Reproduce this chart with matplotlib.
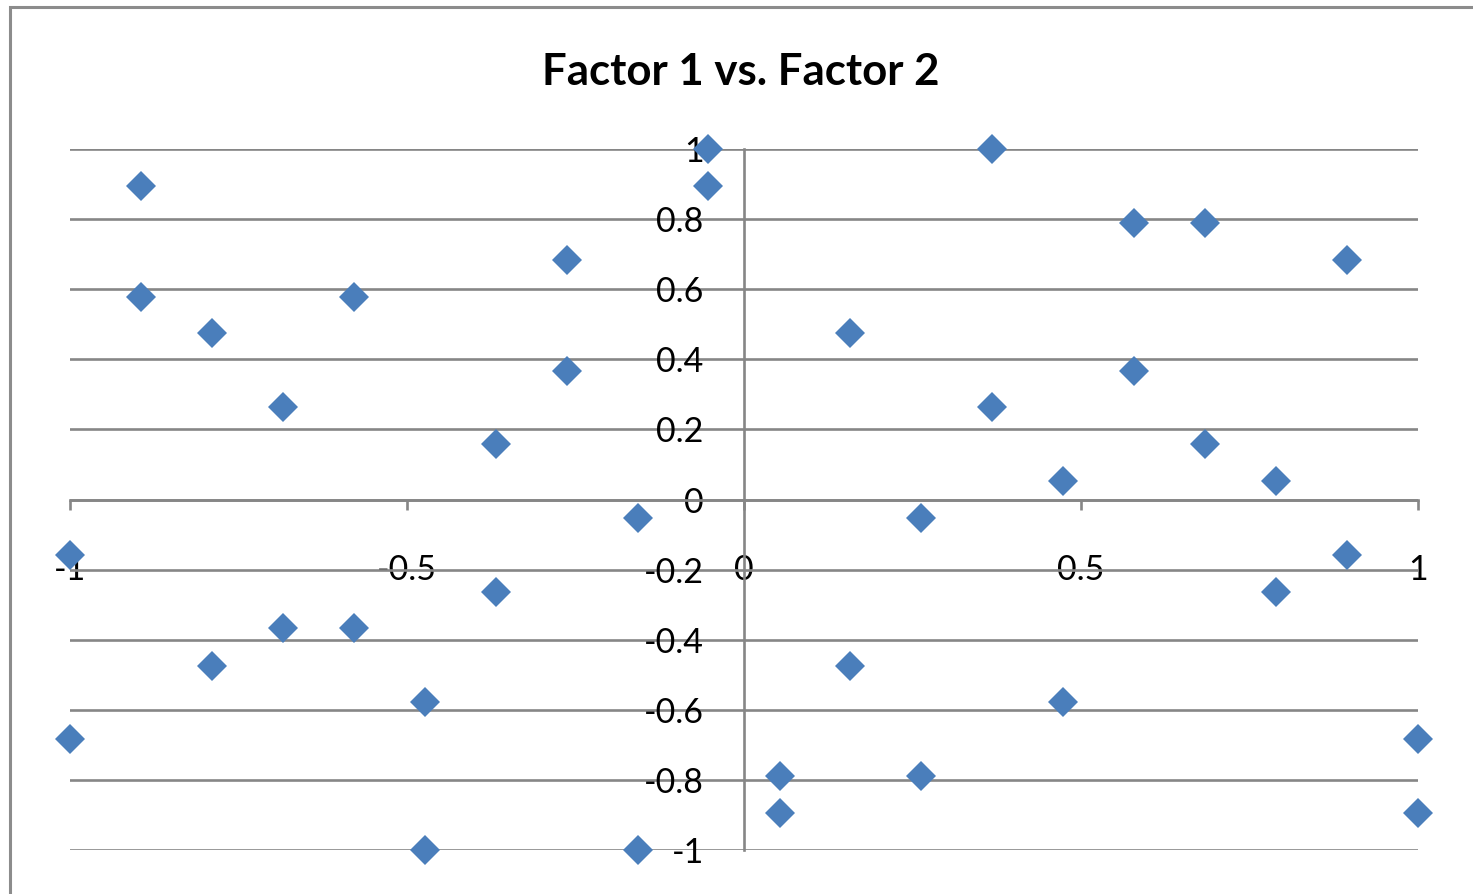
import matplotlib
matplotlib.use("Agg")
import matplotlib.pyplot as plt
from matplotlib.patches import Rectangle

# Factor loadings (Factor 1 on x, Factor 2 on y)
factor1 = [-0.895, -0.895, -0.789, -0.684, -0.579, -0.263, -0.263, -0.368, -0.158, -0.053,
           -0.053, -1.0, -1.0, -0.789, -0.684, -0.579, -0.474, -0.368, -0.474, -0.158,
           0.053, 0.053, 0.158, 0.158, 0.263, 0.263, 0.368, 0.368, 0.474, 0.474,
           0.579, 0.579, 0.684, 0.684, 0.789, 0.789, 0.895, 0.895, 1.0, 1.0]
factor2 = [0.895, 0.579, 0.474, 0.263, 0.579, 0.684, 0.368, 0.158, -0.053, 1.0,
           0.895, -0.158, -0.684, -0.474, -0.368, -0.368, -0.579, -0.263, -1.0, -1.0,
           -0.789, -0.895, 0.474, -0.474, -0.053, -0.789, 1.0, 0.263, 0.053, -0.579,
           0.789, 0.368, 0.789, 0.158, 0.053, -0.263, 0.684, -0.158, -0.684, -0.895]

x_ticks = [-1, -0.5, 0, 0.5, 1]
x_tick_labels = ["-1", "-0.5", "0", "0.5", "1"]
y_ticks = [-1, -0.8, -0.6, -0.4, -0.2, 0, 0.2, 0.4, 0.6, 0.8, 1]
y_tick_labels = ["-1", "-0.8", "-0.6", "-0.4", "-0.2", "0", "0.2", "0.4", "0.6", "0.8", "1"]

plt.rcParams["font.family"] = ["Lato", "DejaVu Sans"]

W, H = 1473, 894
fig = plt.figure(figsize=(W / 100, H / 100), dpi=100)
fig.patch.set_facecolor("white")

grid_color = "#868686"
marker_color = "#4A7EBB"
line_w = 1.9

ax = fig.add_axes([70 / W, 1 - 850 / H, (1418 - 70) / W, (850 - 149) / H])
ax.set_xlim(-1, 1)
ax.set_ylim(-1, 1)

for side in ("top", "right"):
    ax.spines[side].set_visible(False)
for side in ("left", "bottom"):
    ax.spines[side].set_position("zero")
    ax.spines[side].set_color(grid_color)
    ax.spines[side].set_linewidth(line_w)

ax.yaxis.grid(True, color=grid_color, linewidth=line_w)
ax.xaxis.grid(False)
ax.set_axisbelow(True)

ax.set_yticks(y_ticks, y_tick_labels)
ax.tick_params(axis="y", length=0, pad=29, labelsize=24.5, labelcolor="black")
ax.set_xticks(x_ticks, x_tick_labels)
ax.tick_params(axis="x", direction="out", length=7, width=line_w, color=grid_color,
               pad=32.5, labelsize=24.5, labelcolor="black")

ax.plot(factor1, factor2, linestyle="none", marker="D", markersize=15.5,
        markerfacecolor=marker_color, markeredgecolor=marker_color,
        markeredgewidth=0, clip_on=False, zorder=2.5)

fig.text(741 / W, 1 - 72 / H, "Factor 1 vs. Factor 2", ha="center", va="center",
         fontsize=31.5, fontweight="bold")

# chart area frame
fig.add_artist(Rectangle((10.3 / W, -0.05), 1.2, 1 - 6.8 / H + 0.05,
                         transform=fig.transFigure, fill=False,
                         edgecolor="#8c8c8c", linewidth=2.2))

fig.savefig("out.png", dpi=100)
